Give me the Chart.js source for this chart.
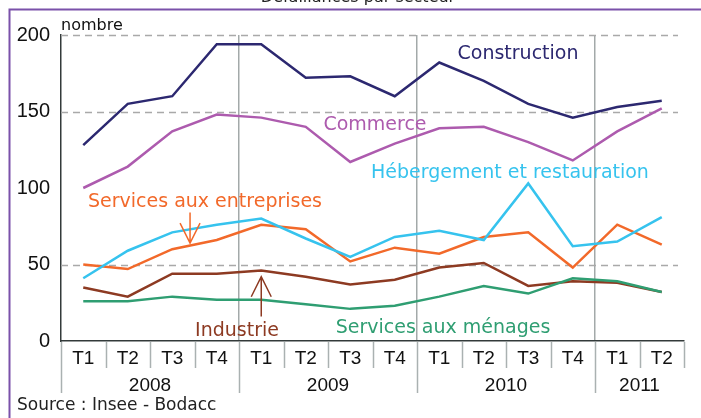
<!DOCTYPE html>
<html>
<head>
<meta charset="utf-8">
<script src="https://cdn.jsdelivr.net/npm/chart.js@4"></script>
<style>
  html, body { margin: 0; padding: 0; background: #fff; }
  canvas { display: block; }
</style>
</head>
<body>
<canvas id="chart" width="701" height="418"></canvas>
<script>
// Défaillances par secteur, 2008 - 2011 (trimestriel)

const quarters = ['T1','T2','T3','T4','T1','T2','T3','T4','T1','T2','T3','T4','T1','T2'];
const years = ['2008', '2009', '2010', '2011'];
const yearSpans = [4, 4, 4, 2];
const yTicks = [0, 50, 100, 150, 200];
const dashedAt = [50, 150, 200];

const construction = [128, 155, 160, 194, 194, 172, 173, 160, 182, 170, 155, 146, 153, 157];
const commerce     = [100, 114, 137, 148, 146, 140, 117, 129, 139, 140, 130, 118, 137, 152];
const hebergement  = [41, 59, 71, 76, 80, 67, 55, 68, 72, 66, 103, 62, 65, 81];
const entreprises  = [50, 47, 60, 66, 76, 73, 52, 61, 57, 68, 71, 48, 76, 63];
const industrie    = [35, 29, 44, 44, 46, 42, 37, 40, 48, 51, 36, 39, 38, 32];
const menages      = [26, 26, 29, 27, 27, 24, 21, 23, 29, 36, 31, 41, 39, 32];

const C = {
  construction: '#2c2870',
  commerce: '#ad5bae',
  hebergement: '#36c3ee',
  entreprises: '#f2692a',
  industrie: '#8d3a22',
  menages: '#2f9e72',
  frame: '#7a51aa',
  grid: '#a9a9a9',
  sep: '#aab1b1',
  axis: '#333a3a'
};

const LABEL_FONT = '19px "DejaVu Sans"';

// free-standing series names, placed like in the original
const seriesLabels = [
  { text: 'Construction', x: 518, y: 59, color: C.construction },
  { text: 'Commerce', x: 375, y: 130, color: C.commerce },
  { text: 'Hébergement et restauration', x: 510, y: 178, color: C.hebergement },
  { text: 'Services aux entreprises', x: 205, y: 207, color: C.entreprises },
  { text: 'Industrie', x: 237, y: 336, color: C.industrie },
  { text: 'Services aux ménages', x: 443, y: 333, color: C.menages }
];

function arrow(ctx, x, yFrom, yTo, color) {
  const dir = yTo > yFrom ? 1 : -1;
  ctx.save();
  ctx.strokeStyle = color;
  ctx.lineWidth = 1.5;
  ctx.beginPath();
  ctx.moveTo(x, yFrom); ctx.lineTo(x, yTo);
  ctx.moveTo(x - 10, yTo - dir * 20); ctx.lineTo(x, yTo); ctx.lineTo(x + 10, yTo - dir * 20);
  ctx.stroke();
  ctx.restore();
}

const decor = {
  id: 'decor',
  beforeDraw(chart) {
    const ctx = chart.ctx;
    ctx.save();
    ctx.fillStyle = '#fff';
    ctx.fillRect(0, 0, chart.width, chart.height);
    ctx.restore();
  },
  beforeDatasetsDraw(chart) {
    const ctx = chart.ctx, ys = chart.scales.y, a = chart.chartArea;
    ctx.save();
    ctx.strokeStyle = C.grid;
    ctx.lineWidth = 1.5;
    ctx.setLineDash([7, 5]);
    dashedAt.forEach(v => {
      const y = Math.round(ys.getPixelForValue(v)) + 0.5;
      ctx.beginPath();
      ctx.moveTo(a.left, y); ctx.lineTo(a.right - 6, y);
      ctx.stroke();
    });
    ctx.restore();
  },
  afterDraw(chart) {
    const ctx = chart.ctx, xs = chart.scales.x, ys = chart.scales.y;
    const bottom = chart.chartArea.bottom;
    ctx.save();

    // purple frame
    ctx.strokeStyle = C.frame;
    ctx.lineWidth = 2;
    ctx.beginPath();
    ctx.moveTo(701, 9.5); ctx.lineTo(9.5, 9.5); ctx.lineTo(9.5, 418);
    ctx.stroke();

    // title, mostly cut off at the top
    ctx.fillStyle = '#222';
    ctx.font = '16px "DejaVu Sans"';
    ctx.textAlign = 'center';
    ctx.textBaseline = 'alphabetic';
    ctx.fillText('Défaillances par secteur', 358, 2);

    // separators under the x axis
    ctx.strokeStyle = C.sep;
    ctx.lineWidth = 1.5;
    let starts = [0];
    yearSpans.forEach((n, k) => starts.push(starts[k] + n));
    for (let i = 0; i <= quarters.length; i++) {
      const x = Math.round(xs.getPixelForValue(i - 0.5)) + 0.5;
      const long = starts.includes(i) && i < quarters.length;
      ctx.beginPath();
      ctx.moveTo(x, bottom + 1);
      ctx.lineTo(x, bottom + (long ? 52 : 27));
      ctx.stroke();
    }

    // years
    ctx.fillStyle = '#111';
    ctx.font = '19px "Liberation Sans"';
    ctx.textAlign = 'center';
    years.forEach((yr, k) => {
      const x0 = xs.getPixelForValue(starts[k] - 0.5);
      const x1 = xs.getPixelForValue(starts[k] + yearSpans[k] - 0.5);
      ctx.fillText(yr, (x0 + x1) / 2, 391);
    });

    // unit and source
    ctx.textAlign = 'left';
    ctx.font = '16px "DejaVu Sans"';
    ctx.fillText('nombre', 61, 30);
    ctx.fillStyle = '#222';
    ctx.font = '17px "DejaVu Sans"';
    ctx.fillText('Source : Insee - Bodacc', 17, 410);

    // series names
    ctx.font = LABEL_FONT;
    ctx.textAlign = 'center';
    seriesLabels.forEach(l => {
      ctx.fillStyle = l.color;
      ctx.fillText(l.text, l.x, l.y);
    });

    // pointer arrows
    arrow(ctx, xs.getPixelForValue(2.4), ys.getPixelForValue(84), ys.getPixelForValue(64), C.entreprises);
    arrow(ctx, xs.getPixelForValue(4), ys.getPixelForValue(16), ys.getPixelForValue(42), C.industrie);

    ctx.restore();
  }
};

function line(label, data, color) {
  return {
    label, data,
    borderColor: color,
    backgroundColor: color,
    borderWidth: 2.5,
    pointRadius: 0,
    tension: 0,
    fill: false
  };
}

new Chart(document.getElementById('chart'), {
  type: 'line',
  data: {
    labels: quarters,
    datasets: [
      line('Construction', construction, C.construction),
      line('Commerce', commerce, C.commerce),
      line('Hébergement et restauration', hebergement, C.hebergement),
      line('Services aux entreprises', entreprises, C.entreprises),
      line('Services aux ménages', menages, C.menages),
      line('Industrie', industrie, C.industrie)
    ]
  },
  options: {
    responsive: false,
    animation: false,
    layout: { padding: { top: 35, right: 17, left: 0, bottom: 0 } },
    plugins: { legend: { display: false }, tooltip: { enabled: false }, title: { display: false } },
    scales: {
      x: {
        offset: true,
        grid: {
          offset: true,
          drawTicks: false,
          lineWidth: 1.5,
          color: c => [4, 8, 12].includes(c.index) ? '#a3a9a9' : 'rgba(0,0,0,0)'
        },
        border: { display: true, color: C.axis, width: 1.5 },
        ticks: {
          color: '#111',
          font: { family: 'Liberation Sans', size: 19 },
          padding: 6,
          maxRotation: 0,
          autoSkip: false
        },
        afterFit: s => { s.height = 77; }
      },
      y: {
        min: 0,
        max: 200,
        afterBuildTicks: s => { s.ticks = yTicks.map(v => ({ value: v })); },
        grid: { display: false, drawTicks: false },
        border: { display: true, color: C.axis, width: 1.5 },
        ticks: {
          color: '#111',
          font: { family: 'Liberation Sans', size: 20 },
          padding: 11
        },
        afterFit: s => { s.width = 61; }
      }
    }
  },
  plugins: [decor]
});
</script>
</body>
</html>
